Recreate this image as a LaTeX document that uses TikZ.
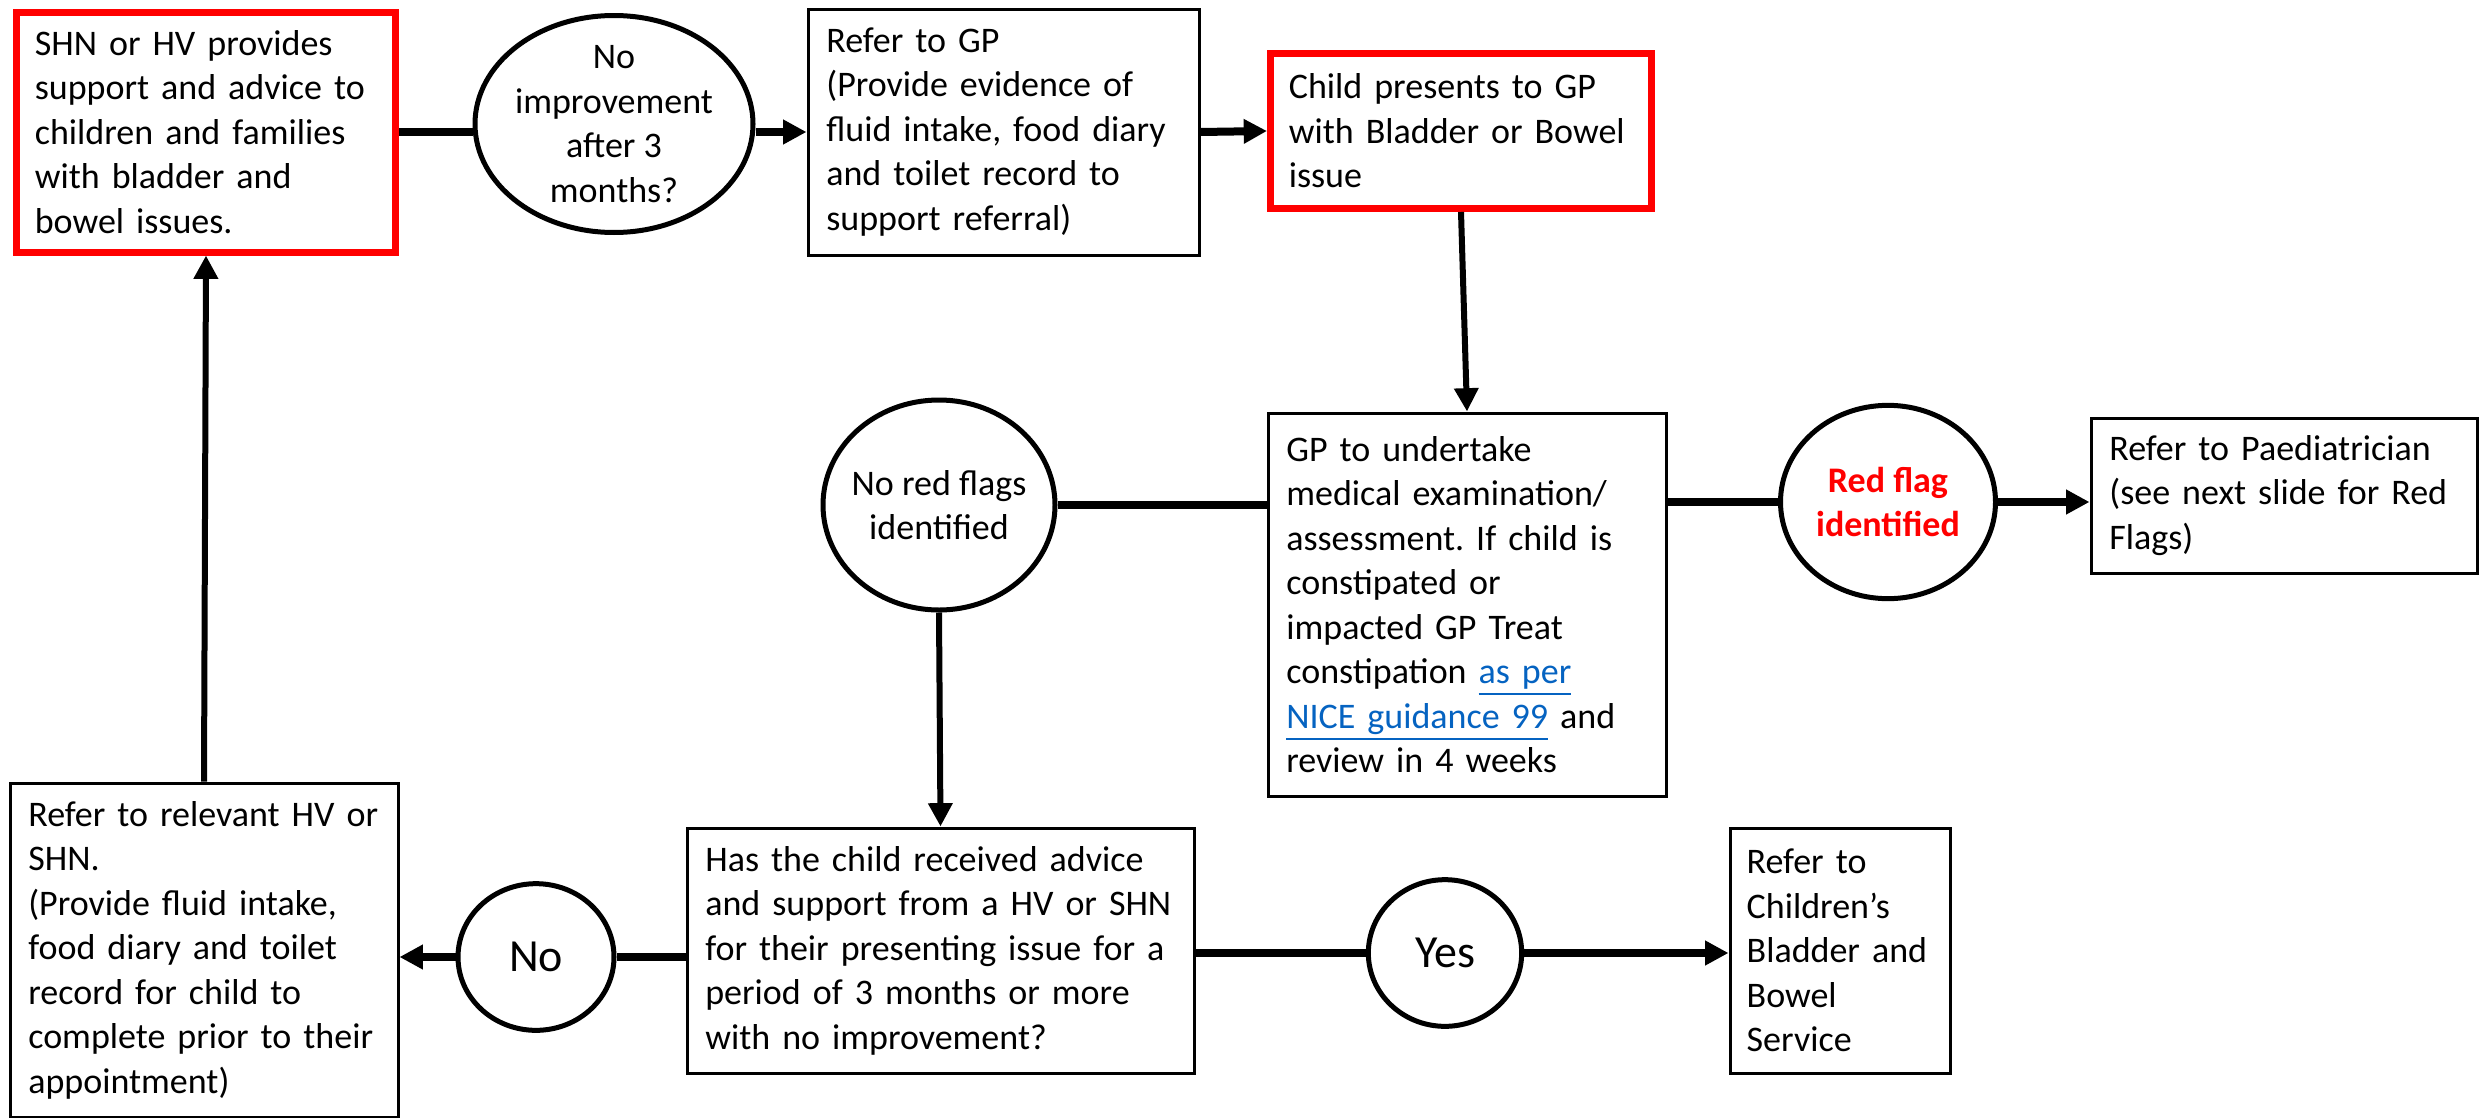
\documentclass[tikz,border=0pt]{standalone}
\usepackage{fontspec}
\setmainfont{Carlito}
\usetikzlibrary{shapes.geometric,arrows.meta}
\definecolor{linkblue}{HTML}{0563C1}
\definecolor{flagred}{HTML}{FF0000}
\newcommand\fsz{\fontsize{10.8pt}{13.35pt}\selectfont}
\newcommand\fbig{\fontsize{13.8pt}{16pt}\selectfont}
\frenchspacing
\begin{document}
\begin{tikzpicture}[x=0.3pt,y=-0.3pt,
  box/.style={draw, line width=0.9pt, rectangle, inner xsep=5.5pt, inner ysep=0pt, align=left, font=\fsz},
  redbox/.style={box, draw=flagred, line width=2.1pt},
  oval/.style={ellipse, draw, line width=1.5pt, inner sep=0pt, fill=white},
  ovaltext/.style={align=center, font=\fsz, inner sep=0pt},
  conn/.style={line width=2.4pt},
  vconn/.style={line width=1.8pt},
  arr/.style={-{Triangle[length=7pt,width=7pt]}}
]
\useasboundingbox (0,0) rectangle (2479,1118);

% top row
\node[redbox, minimum width=113.7pt, minimum height=72pt, text width=102.7pt] (b1) at (206,132)
  {SHN or HV provides\\support and advice to\\children and families\\with bladder and\\bowel issues.};
\node[oval, minimum width=83.4pt, minimum height=65.1pt] (e1) at (614,124) {};
\node[ovaltext] (e1t) at (e1) {No\\improvement\\after 3\\months?};
\node[box, minimum width=117.3pt, minimum height=73.8pt, text width=106.3pt] (b2) at (1003.5,132)
  {Refer to GP\\(Provide evidence of\\fluid intake, food diary\\and toilet record to\\support referral)};
\node[redbox, minimum width=114.3pt, minimum height=46.5pt, text width=103.3pt] (b3) at (1461,131)
  {Child presents to GP\\with Bladder or Bowel\\issue};

% middle row
\node[oval, minimum width=69.6pt, minimum height=63pt] (nrf) at (939,505) {};
\node[ovaltext] (nrft) at (nrf) {No red flags\\identified};
\node[box, minimum width=119.4pt, minimum height=114.9pt, text width=108.4pt] (gp) at (1467,604.5)
  {GP to undertake\\medical examination/\\assessment. If child is\\constipated or\\impacted GP Treat\\constipation \textcolor{linkblue}{\underline{as per}}\\\textcolor{linkblue}{\underline{NICE guidance 99}} and\\review in 4 weeks};
\node[oval, minimum width=64.5pt, minimum height=58pt] (rf) at (1888,502) {};
\node[ovaltext, text=flagred, font=\fsz\bfseries] (rft) at (rf) {Red flag\\identified};
\node[box, minimum width=115.8pt, minimum height=46.5pt, text width=104.8pt] (paed) at (2284,495.5)
  {Refer to Paediatrician\\(see next slide for Red\\Flags)};

% bottom row
\node[box, minimum width=116.4pt, minimum height=100.2pt, text width=105.4pt] (bl) at (204,950)
  {Refer to relevant HV or\\SHN.\\(Provide fluid intake,\\food diary and toilet\\record for child to\\complete prior to their\\appointment)};
\node[oval, minimum width=46.8pt, minimum height=44pt] (no) at (536,957) {};
\node[ovaltext, font=\fbig] (not) at (no) {No};
\node[box, minimum width=152.1pt, minimum height=73.5pt, text width=141.1pt] (has) at (940.5,950.5)
  {Has the child received advice\\and support from a HV or SHN\\for their presenting issue for a\\period of 3 months or more\\with no improvement?};
\node[oval, minimum width=46pt, minimum height=44pt] (yes) at (1445,953) {};
\node[ovaltext, font=\fbig] (yest) at (yes) {Yes};
\node[box, minimum width=66pt, minimum height=73.5pt, text width=56pt, inner xsep=5pt] (ch) at (1840,950.5)
  {Refer to\\Children’s\\Bladder and\\Bowel\\Service};

% connectors
\draw[conn] (b1.east) -- (b1.east -| e1.west);
\draw[conn,arr] (b2.west -| e1.east) -- (b2.west);
\draw[conn,arr] (b2.east) -- (b3.west);
\draw[vconn,arr] (b3.south) -- (gp.north);
\draw[conn] (nrf) -- (nrf -| gp.west);
\draw[conn] (gp.east |- rf) -- (rf);
\draw[conn,arr] (rf) -- (rf -| paed.west);
\draw[vconn,arr] (nrf.south) -- (has.north);
\draw[conn] (has.west |- no) -- (no);
\draw[conn,arr] (no) -- (no -| bl.east);
\draw[conn] (has.east |- yes) -- (yes);
\draw[conn,arr] (yes) -- (yes -| ch.west);
\draw[vconn,arr] (bl.north) -- (b1.south);
\end{tikzpicture}
\end{document}
